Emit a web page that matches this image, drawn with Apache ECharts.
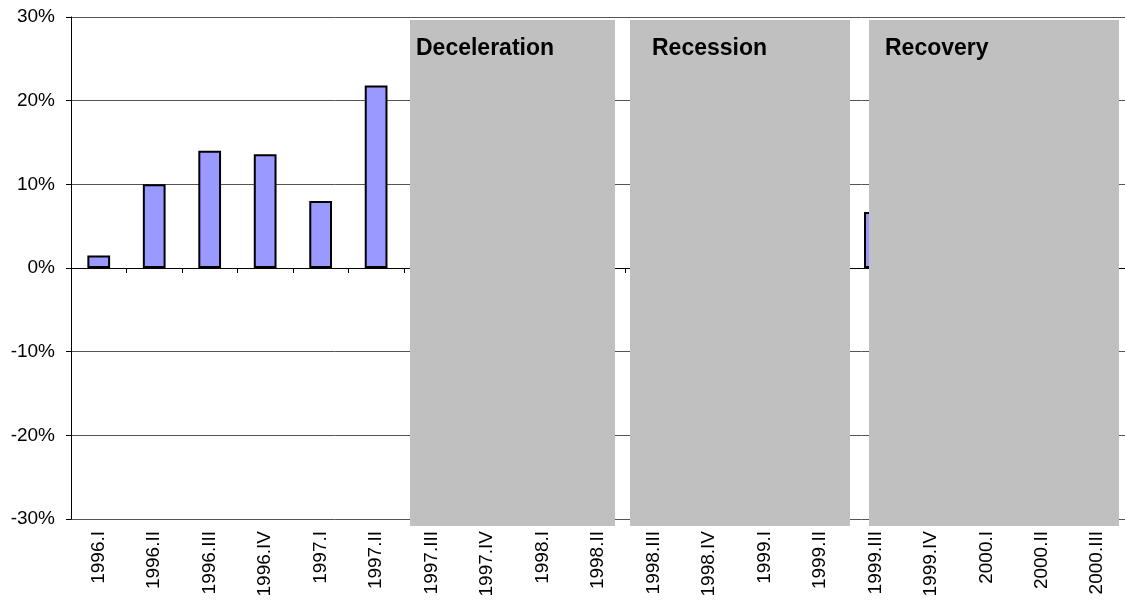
<!DOCTYPE html>
<html>
<head>
<meta charset="utf-8">
<script src="https://cdn.jsdelivr.net/npm/echarts@6/dist/echarts.min.js"></script>
<style>
  html, body { margin: 0; padding: 0; background: #fff; }
  #chart { width: 1125px; height: 605px; }
</style>
</head>
<body>
<div id="chart"></div>
<script>
// quarters shown on the x axis
const quarters = ['1996.I', '1996.II', '1996.III', '1996.IV', '1997.I', '1997.II',
  '1997.III', '1997.IV', '1998.I', '1998.II', '1998.III', '1998.IV',
  '1999.I', '1999.II', '1999.III', '1999.IV', '2000.I', '2000.II', '2000.III'];
// growth in %, null where the bar is hidden behind the phase boxes
const growth = [1.5, 10, 14, 13.6, 8, 21.8,
  null, null, null, null, null, null,
  null, null, 6.7, null, null, null, null];
const yTicks = { min: -30, max: 30, step: 10 };
const phases = ['Deceleration', 'Recession', 'Recovery'];

const chart = echarts.init(document.getElementById('chart'));

// phase boxes drawn over the chart (like shapes pasted on an Excel chart)
const boxes = [
  { x: 410, w: 205, tx: 416 },
  { x: 630, w: 220, tx: 652 },
  { x: 869, w: 250, tx: 885 }
];
const graphics = [];
boxes.forEach((b, i) => {
  graphics.push({
    type: 'rect', z: 100,
    shape: { x: b.x, y: 20, width: b.w, height: 506 },
    style: { fill: '#c0c0c0' }
  });
  graphics.push({
    type: 'text', z: 101, x: b.tx, y: 49,
    style: {
      text: phases[i], fill: '#000', font: 'bold 23px "Liberation Sans", Arial',
      verticalAlign: 'middle'
    }
  });
});

const option = {
  animation: false,
  grid: { left: 71, right: -5, top: 17, bottom: 86 },
  xAxis: [
    {
      type: 'category',
      data: quarters,
      position: 'bottom',
      axisLine: { show: false, onZero: false },
      axisTick: { show: false },
      axisLabel: {
        rotate: 90, interval: 0, margin: 12,
        color: '#000', fontSize: 19, fontFamily: '"Liberation Sans", Arial'
      }
    },
    {
      type: 'category',
      data: quarters,
      position: 'bottom',
      axisLine: { show: true, onZero: true, lineStyle: { color: '#000', width: 1 } },
      axisTick: { show: true, length: 5, lineStyle: { color: '#000' } },
      axisLabel: { show: false }
    }
  ],
  yAxis: {
    type: 'value',
    min: yTicks.min, max: yTicks.max, interval: yTicks.step,
    axisLine: { show: true, lineStyle: { color: '#000' } },
    axisTick: { show: true, length: 5, lineStyle: { color: '#000' } },
    axisLabel: {
      formatter: '{value}%', margin: 16,
      color: '#000', fontSize: 19, fontFamily: '"Liberation Sans", Arial'
    },
    splitLine: { lineStyle: { color: '#555', width: 1 } }
  },
  series: [
    {
      type: 'bar',
      xAxisIndex: 0,
      data: growth,
      barWidth: '41%',
      itemStyle: { color: '#9999ff', borderColor: '#000', borderWidth: 2 }
    }
  ],
  graphic: graphics
};
chart.setOption(option);
</script>
</body>
</html>
